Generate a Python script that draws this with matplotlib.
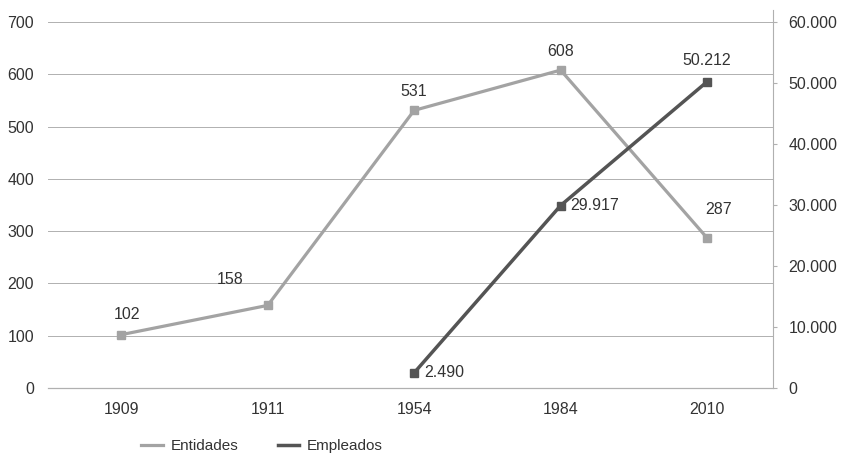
import matplotlib.pyplot as plt
from matplotlib.lines import Line2D
from matplotlib.ticker import FuncFormatter
import numpy as np

anios = ['1909', '1911', '1954', '1984', '2010']
entidades = [102, 158, 531, 608, 287]
empleados = [np.nan, np.nan, 2490, 29917, 50212]

gris_claro = '#a3a3a3'
gris_oscuro = '#545454'
gris_rejilla = '#b0b0b0'
texto = '#333333'

plt.rcParams['font.family'] = ['Liberation Sans', 'DejaVu Sans']


def miles(v, pos=None):
    return f'{int(round(v)):,}'.replace(',', '.')


fig = plt.figure(figsize=(8.45, 4.59), dpi=100)
ax = fig.add_axes([48 / 845, 71 / 459, 725 / 845, 366 / 459])
ax2 = ax.twinx()

x = np.arange(len(anios))

# Eje izquierdo: entidades
ax.plot(x, entidades, color=gris_claro, lw=2.3, marker='s', ms=6, zorder=3)
ax.set_ylim(0, 700)
ax.set_yticks(range(0, 701, 100))
ax.set_xlim(-0.5, 4.45)
ax.set_xticks(x)
ax.set_xticklabels(anios)
ax.grid(axis='y', color=gris_rejilla, lw=0.7)
ax.axhline(0, color=gris_rejilla, lw=0.9, clip_on=False, zorder=1)
ax.set_axisbelow(True)
for s in ['left', 'right', 'top', 'bottom']:
    ax.spines[s].set_visible(False)
ax.tick_params(axis='both', length=0, labelsize=11.5, colors=texto, pad=10)

# Etiquetas de entidades
desplaz = {0: (4, 9), 1: (-27, 13), 2: (0, 8), 3: (0, 8), 4: (8, 15)}
for i, v in enumerate(entidades):
    dx, dy = desplaz[i]
    ax.annotate(str(v), (x[i], v), xytext=(dx, dy), textcoords='offset points',
                ha='center', va='bottom', fontsize=11.5, color=texto)

# Eje derecho: empleados
ax2.plot(x, empleados, color=gris_oscuro, lw=2.5, marker='s', ms=6, zorder=3)
ax2.set_ylim(0, 60000)
ax2.set_yticks(range(0, 60001, 10000))
ax2.yaxis.set_major_formatter(FuncFormatter(miles))
for s in ['left', 'top', 'bottom']:
    ax2.spines[s].set_visible(False)
ax2.spines['right'].set_color(gris_rejilla)
ax2.spines['right'].set_bounds(0, 62000)
ax2.tick_params(axis='y', length=3, color=gris_rejilla, labelsize=11.5, colors=texto, pad=8)

for i in [2, 3]:
    ax2.annotate(miles(empleados[i]), (x[i], empleados[i]), xytext=(7, 0),
                 textcoords='offset points', ha='left', va='center',
                 fontsize=11.5, color=texto)
ax2.annotate(miles(empleados[4]), (x[4], empleados[4]), xytext=(0, 10),
             textcoords='offset points', ha='center', va='bottom',
             fontsize=11.5, color=texto)

# Leyenda inferior
handles = [Line2D([0], [0], color=gris_claro, lw=2.3),
           Line2D([0], [0], color=gris_oscuro, lw=2.5)]
fig.legend(handles, ['Entidades', 'Empleados'], loc='center',
           bbox_to_anchor=(262 / 845, 1 - 446 / 459), ncol=2, frameon=False,
           fontsize=11, handlelength=1.4, handletextpad=0.5,
           columnspacing=2.6, labelcolor=texto)

fig.savefig('out.png', dpi=100, facecolor='white')
